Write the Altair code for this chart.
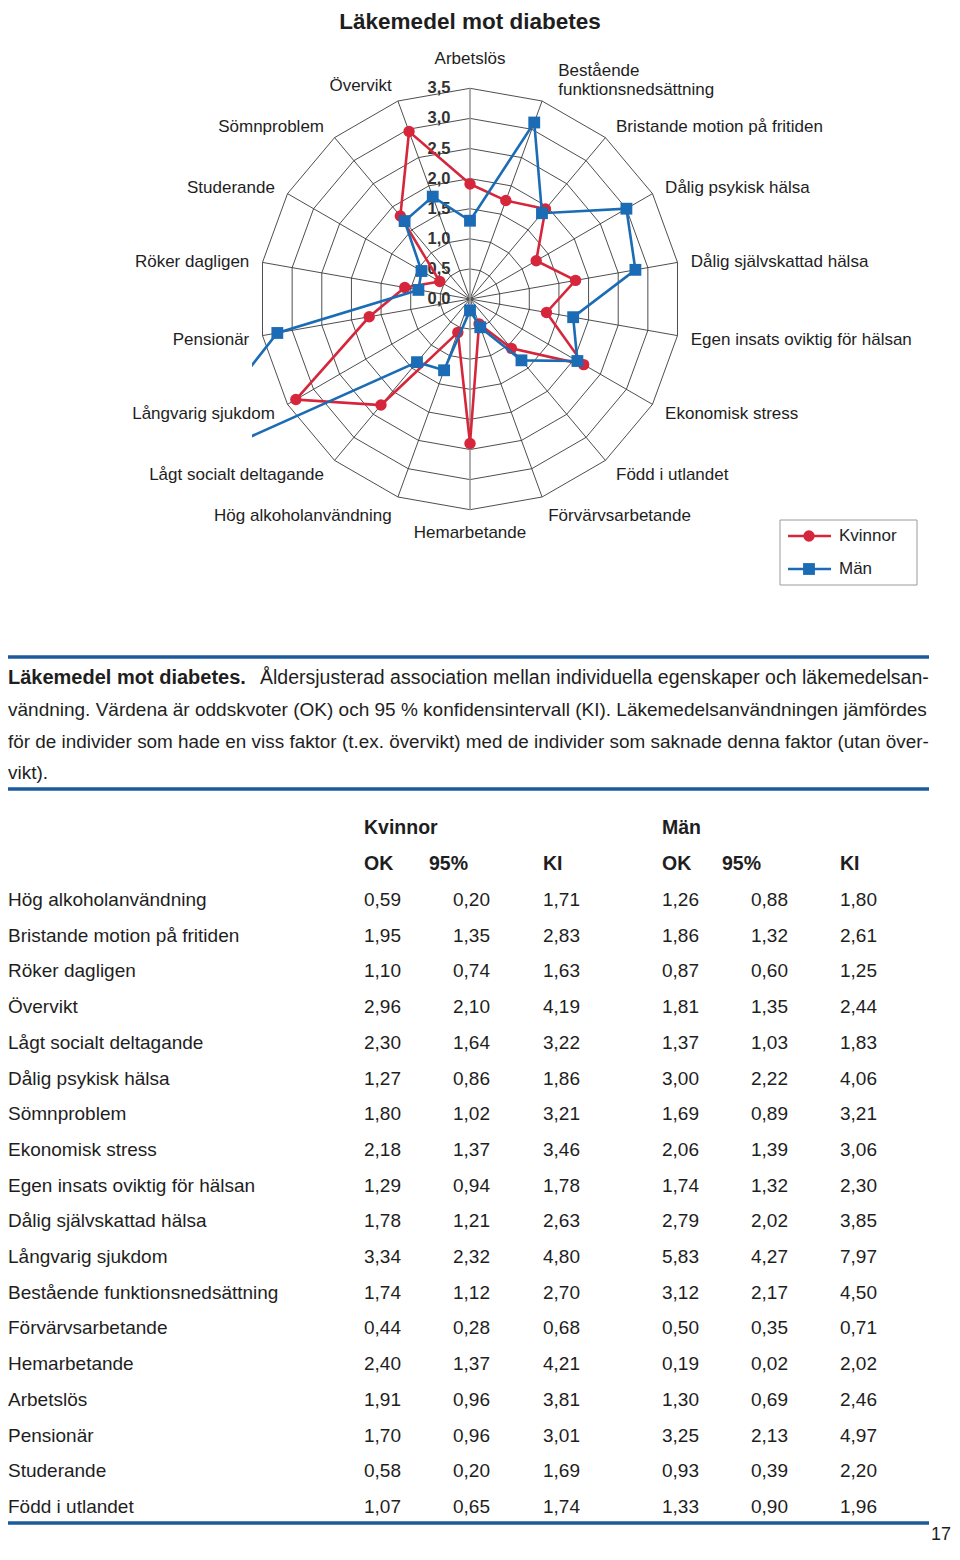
import altair as alt
import pandas as pd

# ---------------- data ----------------
rows = ["Hög alkoholanvändning", "Bristande motion på fritiden", "Röker dagligen", "Övervikt",
        "Lågt socialt deltagande", "Dålig psykisk hälsa", "Sömnproblem", "Ekonomisk stress",
        "Egen insats oviktig för hälsan", "Dålig självskattad hälsa", "Långvarig sjukdom",
        "Bestående funktionsnedsättning", "Förvärvsarbetande", "Hemarbetande", "Arbetslös",
        "Pensionär", "Studerande", "Född i utlandet"]
kv_ok = [0.59, 1.95, 1.10, 2.96, 2.30, 1.27, 1.80, 2.18, 1.29, 1.78, 3.34, 1.74, 0.44, 2.40, 1.91, 1.70, 0.58, 1.07]
kv_lo = [0.20, 1.35, 0.74, 2.10, 1.64, 0.86, 1.02, 1.37, 0.94, 1.21, 2.32, 1.12, 0.28, 1.37, 0.96, 0.96, 0.20, 0.65]
kv_hi = [1.71, 2.83, 1.63, 4.19, 3.22, 1.86, 3.21, 3.46, 1.78, 2.63, 4.80, 2.70, 0.68, 4.21, 3.81, 3.01, 1.69, 1.74]
m_ok = [1.26, 1.86, 0.87, 1.81, 1.37, 3.00, 1.69, 2.06, 1.74, 2.79, 5.83, 3.12, 0.50, 0.19, 1.30, 3.25, 0.93, 1.33]
m_lo = [0.88, 1.32, 0.60, 1.35, 1.03, 2.22, 0.89, 1.39, 1.32, 2.02, 4.27, 2.17, 0.35, 0.02, 0.69, 2.13, 0.39, 0.90]
m_hi = [1.80, 2.61, 1.25, 2.44, 1.83, 4.06, 3.21, 3.06, 2.30, 3.85, 7.97, 4.50, 0.71, 2.02, 2.46, 4.97, 2.20, 1.96]

# spoke order of the radar (clockwise from the top)
spokes = ["Arbetslös", "Bestående funktionsnedsättning", "Bristande motion på fritiden",
          "Dålig psykisk hälsa", "Dålig självskattad hälsa", "Egen insats oviktig för hälsan",
          "Ekonomisk stress", "Född i utlandet", "Förvärvsarbetande", "Hemarbetande",
          "Hög alkoholanvändning", "Lågt socialt deltagande", "Långvarig sjukdom", "Pensionär",
          "Röker dagligen", "Studerande", "Sömnproblem", "Övervikt"]
spoke_labels = ["Arbetslös", "Bestående\nfunktionsnedsättning", "Bristande motion på fritiden",
                "Dålig psykisk hälsa", "Dålig självskattad hälsa", "Egen insats oviktig för hälsan",
                "Ekonomisk stress", "Född i utlandet", "Förvärvsarbetande", "Hemarbetande",
                "Hög alkoholanvändning", "Lågt socialt deltagande", "Långvarig sjukdom", "Pensionär",
                "Röker dagligen", "Studerande", "Sömnproblem", "Övervikt"]
ticks = [0.0, 0.5, 1.0, 1.5, 2.0, 2.5, 3.0, 3.5]
tick_labels = ["0,0", "0,5", "1,0", "1,5", "2,0", "2,5", "3,0", "3,5"]
series = ["Kvinnor", "Män"]

title_text = "Läkemedel mot diabetes"
caption_bold = "Läkemedel mot diabetes."
caption_first = "Åldersjusterad association mellan individuella egenskaper och läkemedelsan-"
caption_lines = [
    "vändning. Värdena är oddskvoter (OK) och 95 % konfidensintervall (KI). Läkemedelsanvändningen jämfördes",
    "för de individer som hade en viss faktor (t.ex. övervikt) med de individer som saknade denna faktor (utan över-",
    "vikt).",
]
head_groups = ["Kvinnor", "Män"]
head_cols = ["OK", "95%", "KI", "OK", "95%", "KI"]
page_number = "17"

# ---------------- styling / geometry ----------------
FONT = "Liberation Sans"
TEXT = "#1e1e1e"
RED = "#d6263b"
BLUE = "#1b6cb5"
GRID = "#3a3a3a"
RULE_BLUE = "#1d5a9c"

PPU = 60.2                     # pixels per OR unit
PL, PT, PW, PH = 252, 40, 436, 480   # plot area on the page
CX, CY = 470, 299              # radar centre on the page
TOTAL_W, TOTAL_H = 944, 1536
N = len(spokes)

x_dom = [-(CX - PL) / PPU, (PL + PW - CX) / PPU]
y_dom = [-(PT + PH - CY) / PPU, (CY - PT) / PPU]
XS = alt.Scale(domain=x_dom, nice=False, zero=False)
YS = alt.Scale(domain=y_dom, nice=False, zero=False)


def px(x):
    return x - PL


def py(y):
    return y - PT


def X(f):
    return alt.X(f, type="quantitative", scale=XS, axis=None)


def Y(f):
    return alt.Y(f, type="quantitative", scale=YS, axis=None)


ONE = pd.DataFrame({"k": [0]})
THETA = f"datum.idx * 2 * PI / {N}"

layers = []

# ---------------- radar grid ----------------
ring_df = pd.DataFrame([{"ring": r, "idx": i} for r in ticks[1:] for i in range(N + 1)])
layers.append(
    alt.Chart(ring_df).transform_calculate(
        theta=THETA, gx="datum.ring * sin(datum.theta)", gy="datum.ring * cos(datum.theta)"
    ).mark_line(color=GRID, strokeWidth=0.9).encode(
        x=X("gx"), y=Y("gy"), detail="ring:N", order="idx:Q")
)

spoke_df = pd.DataFrame({"idx": list(range(N)), "label": spoke_labels})
rmax = max(ticks)
spoke_base = alt.Chart(spoke_df).transform_calculate(
    theta=THETA, zero="0", sx=f"{rmax} * sin(datum.theta)", sy=f"{rmax} * cos(datum.theta)"
)
layers.append(
    spoke_base.transform_filter(f"datum.idx != 0 && datum.idx != {N // 2}")
    .mark_rule(color=GRID, strokeWidth=0.9)
    .encode(x=X("zero"), y=Y("zero"), x2="sx:Q", y2="sy:Q")
)
layers.append(
    spoke_base.transform_filter(f"datum.idx == 0 || datum.idx == {N // 2}")
    .mark_rule(color="#9a9a9a", strokeWidth=1.6)
    .encode(x=X("zero"), y=Y("zero"), x2="sx:Q", y2="sy:Q")
)

# tick labels along the top spoke
tick_df = pd.DataFrame({"v": ticks, "t": tick_labels})
layers.append(
    alt.Chart(tick_df).transform_calculate(zero="0").mark_text(
        font=FONT, fontSize=16.5, fontWeight="bold", color="#333333", align="center",
        baseline="middle", dx=-31
    ).encode(x=X("zero"), y=Y("v"), text="t:N")
)

# spoke labels
lab_base = alt.Chart(spoke_df).transform_calculate(
    theta=THETA,
    R="3.72 + 0.09 * cos(datum.theta) * cos(datum.theta)",
    lx="datum.R * sin(datum.theta)",
    ly="datum.R * cos(datum.theta)",
    s="sin(datum.theta)",
)
lab_style = dict(font=FONT, fontSize=17, color=TEXT, lineBreak="\n")
layers.append(lab_base.transform_filter("datum.s > 0.1 && datum.idx != 1").mark_text(
    align="left", baseline="middle", dy=2, **lab_style).encode(x=X("lx"), y=Y("ly"), text="label:N"))
layers.append(lab_base.transform_filter("datum.idx == 1").mark_text(
    align="left", baseline="middle", dx=10, dy=-13, lineHeight=19, **lab_style
).encode(x=X("lx"), y=Y("ly"), text="label:N"))
layers.append(lab_base.transform_filter("datum.s < -0.1").mark_text(
    align="right", baseline="middle", dy=2, **lab_style).encode(x=X("lx"), y=Y("ly"), text="label:N"))
layers.append(lab_base.transform_filter("datum.idx == 0").mark_text(
    align="center", baseline="bottom", dy=-2, **lab_style).encode(x=X("lx"), y=Y("ly"), text="label:N"))
layers.append(lab_base.transform_filter(f"datum.idx == {N // 2}").mark_text(
    align="center", baseline="top", dy=-3, **lab_style).encode(x=X("lx"), y=Y("ly"), text="label:N"))

# ---------------- data series ----------------
recs = []
for g, vals in zip(series, [kv_ok, m_ok]):
    look = dict(zip(rows, vals))
    for i, s in enumerate(spokes + [spokes[0]]):
        recs.append({"serie": g, "factor": s, "idx": i, "value": look[s]})
radar_df = pd.DataFrame(recs)

for g, col, shape, size in [("Kvinnor", RED, "circle", 130), ("Män", BLUE, "square", 140)]:
    base = alt.Chart(radar_df).transform_filter(f"datum.serie == '{g}'").transform_calculate(
        theta=THETA, dx_="datum.value * sin(datum.theta)", dy_="datum.value * cos(datum.theta)"
    )
    layers.append(base.mark_line(color=col, strokeWidth=2.6, clip=True).encode(
        x=X("dx_"), y=Y("dy_"), order="idx:Q"))
    layers.append(base.transform_filter(f"datum.idx < {N}").mark_point(
        shape=shape, filled=True, opacity=1, color=col, size=size, clip=True
    ).encode(x=X("dx_"), y=Y("dy_")))


# ---------------- helpers for free text ----------------
def txt(text, x, y, size=18, weight="normal", align="left", baseline="middle", color=TEXT):
    return alt.Chart(ONE).mark_text(
        text=text, align=align, baseline=baseline, fontSize=size, fontWeight=weight,
        font=FONT, color=color
    ).encode(x=alt.value(px(x)), y=alt.value(py(y)))


def hrule(x1, x2, y, color, width):
    return alt.Chart(ONE).mark_rule(color=color, strokeWidth=width).encode(
        x=alt.value(px(x1)), x2=alt.value(px(x2)), y=alt.value(py(y)))


# title
layers.append(txt(title_text, CX, 29, size=22.5, weight="bold", align="center", baseline="alphabetic"))

# legend box
layers.append(alt.Chart(ONE).mark_rect(fill="white", stroke="#9a9a9a", strokeWidth=1).encode(
    x=alt.value(px(780)), x2=alt.value(px(917)), y=alt.value(py(520)), y2=alt.value(py(585))))
for g, col, shape, size, yy in [("Kvinnor", RED, "circle", 130, 536), ("Män", BLUE, "square", 140, 569)]:
    layers.append(hrule(788, 831, yy, col, 2.6))
    layers.append(alt.Chart(ONE).mark_point(shape=shape, filled=True, opacity=1, color=col, size=size).encode(
        x=alt.value(px(809)), y=alt.value(py(yy))))
    layers.append(txt(g, 839, yy, size=17))

# caption
layers.append(hrule(8, 929, 657, RULE_BLUE, 3.5))
layers.append(txt(caption_bold, 8, 678, size=20, weight="bold"))
layers.append(txt(caption_first, 260, 678, size=19.5))
caption_sizes = [19, 18.9, 19]
for k, line in enumerate(caption_lines):
    layers.append(txt(line, 8, 710 + k * 31.6, size=caption_sizes[k]))
layers.append(hrule(8, 929, 789, RULE_BLUE, 3.5))

# table header
for g, xx in zip(head_groups, [364, 662]):
    layers.append(txt(g, xx, 828, size=19.5, weight="bold"))
for h, xx in zip(head_cols, [364, 429, 543, 662, 722, 840]):
    layers.append(txt(h, xx, 864, size=19.5, weight="bold"))


# table body
def fmt(v):
    return f"{v:.2f}".replace(".", ",")


row_scale = alt.Scale(type="point", domain=rows, range=[py(900), py(1507)], padding=0)
table_cols = [(rows, 8), ([fmt(v) for v in kv_ok], 364), ([fmt(v) for v in kv_lo], 453),
              ([fmt(v) for v in kv_hi], 543), ([fmt(v) for v in m_ok], 662),
              ([fmt(v) for v in m_lo], 751), ([fmt(v) for v in m_hi], 840)]
for texts, xx in table_cols:
    df = pd.DataFrame({"factor": rows, "label": texts})
    layers.append(alt.Chart(df).mark_text(
        align="left", baseline="middle", fontSize=19, font=FONT, color=TEXT
    ).encode(x=alt.value(px(xx)), y=alt.Y("factor:N", scale=row_scale, axis=None), text="label:N"))

layers.append(hrule(8, 929, 1523, RULE_BLUE, 3.5))
layers.append(txt(page_number, 951, 1535, size=18, align="right"))

chart = alt.layer(*layers).resolve_scale(x="independent", y="independent").properties(
    width=PW, height=PH,
    padding={"left": PL - 8, "top": PT - 8, "right": TOTAL_W - (PL - 8) - PW,
             "bottom": TOTAL_H - (PT - 8) - PH},
    autosize=alt.AutoSizeParams(type="none"),
    background="white",
).configure_view(stroke=None)

chart.save("out.html", embed_options={"renderer": "svg", "actions": False})
